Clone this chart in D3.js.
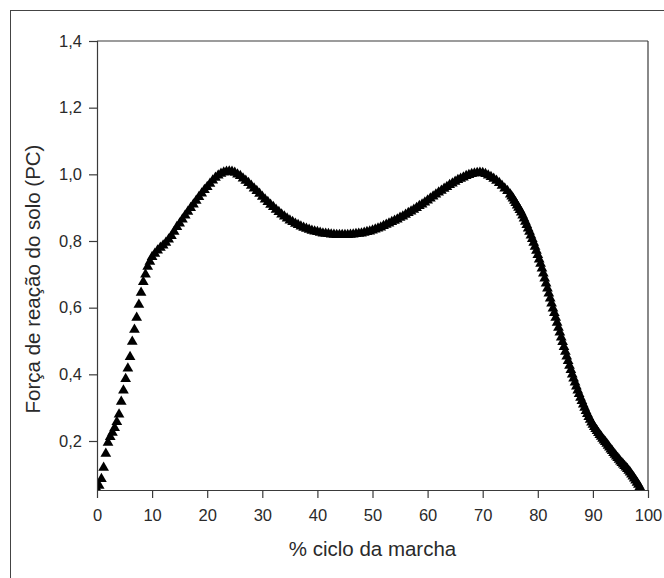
<!DOCTYPE html>
<html><head><meta charset="utf-8">
<script src="https://cdn.jsdelivr.net/npm/d3@7"></script>
<style>body{margin:0;background:#fff}svg{display:block}</style>
</head><body>
<svg id="c" width="664" height="578"></svg>
<script>
const xTicks = [0,10,20,30,40,50,60,70,80,90,100];
const yTicks = [0.2,0.4,0.6,0.8,1.0,1.2,1.4];
// % of gait cycle: step 0.4 on the initial rise, 0.5 in the middle, 0.25 on the descent
const cycle = d3.range(25).map(i => i * 0.4)
  .concat(d3.range(130).map(i => 10 + i * 0.5))
  .concat(d3.range(95).map(i => 75 + i * 0.25));
// ground reaction force (body weight units)
const force = [
// 0 – 9.6 %, step 0.4
0.055,0.066,0.086,0.12,0.162,0.195,0.212,0.225,0.239,0.257,
0.28,0.318,0.352,0.386,0.418,0.452,0.498,0.534,0.57,0.609,
0.645,0.677,0.70,0.723,0.738,
// 10 – 74.5 %, step 0.5
0.752,0.762,0.772,0.78,0.787,0.795,0.805,0.815,0.828,0.842,
0.853,0.865,0.877,0.888,0.899,0.91,0.921,0.932,0.943,0.953,
0.962,0.972,0.982,0.99,0.997,1.002,1.006,1.008,1.009,1.008,
1.005,1.0,0.995,0.988,0.981,0.974,0.966,0.958,0.95,0.942,
0.933,0.925,0.917,0.909,0.902,0.894,0.887,0.88,0.874,0.868,
0.862,0.857,0.852,0.848,0.844,0.84,0.837,0.834,0.831,0.829,
0.827,0.825,0.823,0.822,0.821,0.82,0.819,0.818,0.818,0.818,
0.818,0.818,0.819,0.82,0.821,0.822,0.823,0.825,0.827,0.829,
0.832,0.835,0.838,0.841,0.845,0.849,0.853,0.857,0.861,0.865,
0.87,0.874,0.879,0.884,0.889,0.894,0.899,0.905,0.91,0.916,
0.922,0.928,0.934,0.94,0.946,0.951,0.957,0.962,0.968,0.973,
0.978,0.983,0.987,0.991,0.995,0.998,1.001,1.003,1.004,1.005,
1.004,1.001,0.997,0.992,0.987,0.981,0.974,0.966,0.958,0.95,
// 75 – 98.5 %, step 0.25
0.94,0.934,0.928,0.921,0.914,0.907,0.9,0.893,0.886,0.877,
0.868,0.858,0.848,0.838,0.828,0.817,0.806,0.795,0.783,0.771,
0.758,0.745,0.732,0.718,0.703,0.688,0.673,0.658,0.643,0.628,
0.613,0.598,0.584,0.57,0.555,0.54,0.526,0.511,0.497,0.482,
0.468,0.454,0.44,0.426,0.413,0.40,0.388,0.376,0.364,0.352,
0.341,0.33,0.32,0.31,0.30,0.29,0.281,0.272,0.264,0.256,
0.249,0.242,0.236,0.23,0.224,0.218,0.213,0.207,0.202,0.197,
0.192,0.186,0.181,0.175,0.17,0.164,0.159,0.154,0.149,0.144,
0.139,0.134,0.13,0.125,0.121,0.116,0.111,0.106,0.10,0.094,
0.088,0.082,0.075,0.069,0.062
];
const data = cycle.map((c,i)=>({x:c, y:force[i]})).filter(d=>d.y!==undefined);

const svg = d3.select("#c");
const L=97, R=648, T=41, B=490;
const x = d3.scaleLinear().domain([0,100]).range([L,R]);
const y = d3.scaleLinear().domain([0.053,1.4]).range([B,T]);
const axisCol = "#3a3a3a", textCol = "#2a2a2a";
const font = "Arial, 'Liberation Sans', sans-serif";

// outer frame (only top and left edges fall inside the picture)
svg.append("rect").attr("x",10.5).attr("y",10.5).attr("width",700).attr("height",700)
  .attr("fill","none").attr("stroke","#444").attr("stroke-width",1);

svg.append("clipPath").attr("id","clip").append("rect")
  .attr("x",L).attr("y",T).attr("width",R-L).attr("height",B-T);

svg.append("g").attr("clip-path","url(#clip)")
  .selectAll("path").data(data).enter().append("path")
  .attr("transform",d=>`translate(${x(d.x)},${y(d.y)})`)
  .attr("d", d3.symbol().type(d3.symbolTriangle).size(50))
  .attr("fill","#000");

const fmt = d => d3.format(".1f")(d).replace(".", ",");
const gx = svg.append("g").attr("transform",`translate(0,${B})`)
  .call(d3.axisBottom(x).tickValues(xTicks).tickSize(8).tickSizeOuter(0).tickPadding(11));
const gy = svg.append("g").attr("transform",`translate(${L},0)`)
  .call(d3.axisLeft(y).tickValues(yTicks).tickFormat(fmt).tickSize(8).tickSizeOuter(0).tickPadding(7));
[gx,gy].forEach(g=>{
  g.select(".domain").attr("stroke",axisCol).attr("stroke-width",1.2);
  g.selectAll(".tick line").attr("stroke",axisCol).attr("stroke-width",1.2);
  g.selectAll("text").attr("fill",textCol).style("font-family",font).style("font-size","16.5px");
});
gy.select(".domain").attr("d",`M0.5,${B}V${T}`);
gx.select(".domain").attr("d",`M${L},0.5H${R}`);
// top and right lines of the plot box
svg.append("line").attr("x1",L).attr("x2",R).attr("y1",T).attr("y2",T).attr("stroke",axisCol).attr("stroke-width",1.2);
svg.append("line").attr("x1",R).attr("x2",R).attr("y1",T).attr("y2",B).attr("stroke",axisCol).attr("stroke-width",1.2);

svg.append("text").attr("x",(L+R)/2).attr("y",556).attr("text-anchor","middle")
  .attr("fill",textCol).style("font-family",font).style("font-size","20.5px").text("% ciclo da marcha");
svg.append("text").attr("transform",`translate(40,279) rotate(-90)`).attr("text-anchor","middle")
  .attr("fill",textCol).style("font-family",font).style("font-size","20.5px").text("Força de reação do solo (PC)");
</script>
</body></html>
